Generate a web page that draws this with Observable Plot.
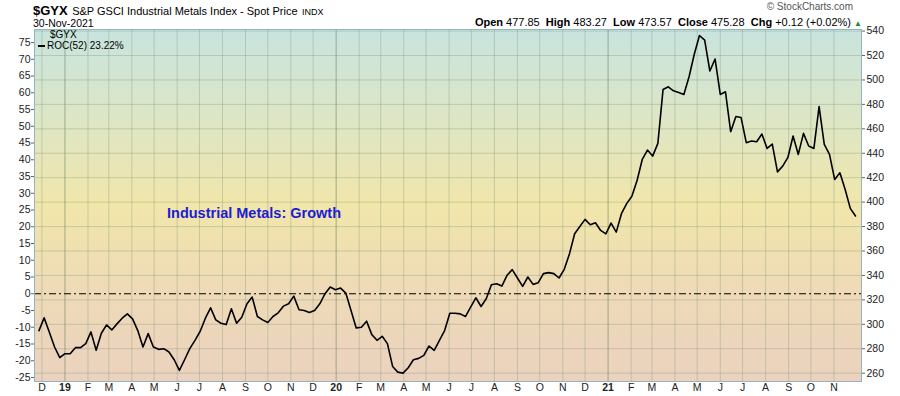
<!DOCTYPE html>
<html><head><meta charset="utf-8">
<script src="https://cdn.jsdelivr.net/npm/d3@7"></script>
<script src="https://cdn.jsdelivr.net/npm/@observablehq/plot@0.6"></script>
<style>
body{margin:0;background:#fff;font-family:"Liberation Sans",Arial,sans-serif;}
#wrap{position:relative;width:900px;height:396px;overflow:hidden}
#wrap svg{position:absolute;left:0;top:0}
.t{position:absolute;white-space:nowrap;color:#000;line-height:1}
</style></head><body><div id="wrap"></div>
<script>
// Weekly ROC(52) values of $GYX
const rocValues = [
  -11.0, -7.2, -11.5, -15.9, -19.1, -17.9, -17.9, -16.1, -16.1, -14.9,
  -11.4, -16.9, -11.8, -9.3, -10.8, -9.0, -7.3, -6.0, -7.5, -11.0,
  -15.9, -11.9, -15.9, -16.6, -16.4, -17.4, -19.7, -22.9, -19.7, -16.4,
  -13.9, -11.2, -7.3, -4.2, -7.8, -8.8, -9.2, -4.5, -8.8, -7.0,
  -3.0, -1.0,
  -6.8, -7.8, -8.6, -6.8, -5.7, -3.7, -3.0, -0.7, -4.8, -5.0,
  -5.6, -5.0, -3.0, 0.0, 2.0, 1.2, 1.7, 0.2, -5.0, -10.2,
  -10.0, -8.2, -12.2, -13.9, -12.7, -14.9, -21.7, -23.4, -23.7, -22.1,
  -19.7, -19.3, -18.4, -15.6, -16.9, -13.9, -11.0, -5.8, -5.8, -6.0,
  -6.8, -4.0, -1.2, -3.8, -1.5, 2.7, 3.0, 2.3, 5.5, 7.2,
  4.7, 2.2, 5.0, 2.8, 3.3, 6.0, 6.3, 6.0, 4.7, 7.3,
  11.9, 17.9, 20.1, 22.2, 20.6, 21.2, 18.9, 17.9, 21.1, 18.4,
  23.9, 26.9, 29.1, 33.8,
  40.1, 42.9, 41.1, 44.9, 61.0, 61.8, 60.6, 60.1, 59.5, 64.8,
  71.5, 77.1, 75.7, 66.5, 70.1, 59.5, 60.3, 48.4, 52.9, 52.6,
  45.1, 45.6, 45.4, 47.7, 43.4, 44.7, 36.4, 38.1, 40.7, 47.1,
  41.6, 47.9, 44.1, 43.4, 55.9, 44.6, 41.6, 34.1, 36.1, 31.2,
  25.5, 23.22
];
const lastDate = new Date(Date.UTC(2021, 10, 30));
const dates = rocValues.map((_, i) => d3.utcDay.offset(lastDate, -7 * (rocValues.length - 1 - i)));
const data = rocValues.map((v, i) => ({date: dates[i], roc: v}));

const rocTicks = d3.range(-25, 80, 5);
const priceTicks = d3.range(260, 541, 20);
const priceToRoc = p => 0.36482 * p - 118.57;
const rocToPrice = r => Math.round((r + 118.57) / 0.36482);

const monthTicks = d3.utcMonth.range(new Date(Date.UTC(2018, 11, 1)), new Date(Date.UTC(2021, 11, 1)));
const janTicks = monthTicks.filter(d => d.getUTCMonth() === 0);
const otherTicks = monthTicks.filter(d => d.getUTCMonth() !== 0);
const monthLetters = ["J","F","M","A","M","J","J","A","S","O","N","D"];

const DAY = 864e5;
const xDomain = [new Date(+lastDate - 1105 * DAY), new Date(+lastDate + 8.08 * DAY)];

const bgStops = [
  [0, "#c8e4de"], [0.25, "#dde6c6"], [0.5, "#f1e6aa"], [0.75, "#eedab7"], [1, "#ebd2bf"]
];
function bgDefs() {
  const g = d3.create("svg:g");
  const lg = g.append("defs").append("linearGradient")
    .attr("id", "bg").attr("x1", 0).attr("y1", 0).attr("x2", 0).attr("y2", 1);
  bgStops.forEach(([o, c]) => lg.append("stop").attr("offset", o).attr("stop-color", c));
  return g.node();
}

const font = "Liberation Sans, Arial, sans-serif";
const plot = Plot.plot({
  width: 900, height: 396,
  marginLeft: 34, marginRight: 39, marginTop: 29, marginBottom: 15,
  style: {fontFamily: font, fontSize: "10.5px", color: "#222", background: "transparent", overflow: "visible"},
  x: {type: "utc", domain: xDomain},
  y: {domain: [-26.2, 78.9]},
  marks: [
    bgDefs,
    Plot.frame({fill: "url(#bg)"}),
    Plot.gridY(priceTicks.map(priceToRoc), {stroke: "#7f9478", strokeOpacity: 0.35}),
    Plot.gridX(otherTicks, {stroke: "#7f9478", strokeOpacity: 0.35}),
    Plot.gridX(janTicks, {stroke: "#6a8566", strokeOpacity: 0.6}),
    Plot.ruleY([0], {stroke: "#000", strokeWidth: 1, strokeDasharray: "7,3,2,3"}),
    Plot.line(data, {x: "date", y: "roc", stroke: "#000", strokeWidth: 1.6, clip: true}),
    Plot.axisY(rocTicks, {anchor: "left", tickSize: 3, tickPadding: 1, tickFormat: d => String(d), label: null, stroke: "#666"}),
    Plot.axisY(priceTicks.map(priceToRoc), {anchor: "right", tickSize: 3, tickPadding: 2, tickFormat: rocToPrice, label: null, stroke: "#666"}),
    Plot.axisX(otherTicks, {anchor: "bottom", tickSize: 0, tickPadding: 2, tickFormat: d => monthLetters[d.getUTCMonth()], label: null}),
    Plot.axisX(janTicks, {anchor: "bottom", tickSize: 0, tickPadding: 2, tickFormat: d => String(d.getUTCFullYear()).slice(2), label: null, fontWeight: "bold"}),
    Plot.frame({stroke: "#93b6be"})
  ]
});
const wrap = document.getElementById("wrap");
wrap.appendChild(plot);

function addText(html, css) {
  const d = document.createElement("div");
  d.className = "t";
  d.innerHTML = html;
  Object.assign(d.style, css);
  wrap.appendChild(d);
}
addText('<b style="font-size:13px">$GYX</b> <span style="font-size:11px">S&amp;P GSCI Industrial Metals Index - Spot Price</span> <span style="font-size:9px">INDX</span>', {left: "33px", top: "2px"});
addText('30-Nov-2021', {left: "33px", top: "17.5px", fontSize: "10.5px"});
addText('© StockCharts.com', {right: "47px", top: "2px", fontSize: "10px", color: "#555"});
addText('<b>Open</b> 477.85&nbsp; <b>High</b> 483.27&nbsp; <b>Low</b> 473.57&nbsp; <b>Close</b> 475.28&nbsp; <b>Chg</b> +0.12 (+0.02%) <span style="color:#2a8a2a;font-size:8px">▲</span>', {right: "38px", top: "16.5px", fontSize: "11px"});
addText('$GYX', {left: "50px", top: "29.5px", fontSize: "10px"});
addText('<span style="display:inline-block;width:7px;height:2px;background:#000;vertical-align:middle;margin-right:2px"></span>ROC(52) 23.22%', {left: "38px", top: "41px", fontSize: "10px"});
addText('<b>Industrial Metals: Growth</b>', {left: "167px", top: "206px", fontSize: "14.5px", color: "#1c1cd6"});
</script></body></html>
